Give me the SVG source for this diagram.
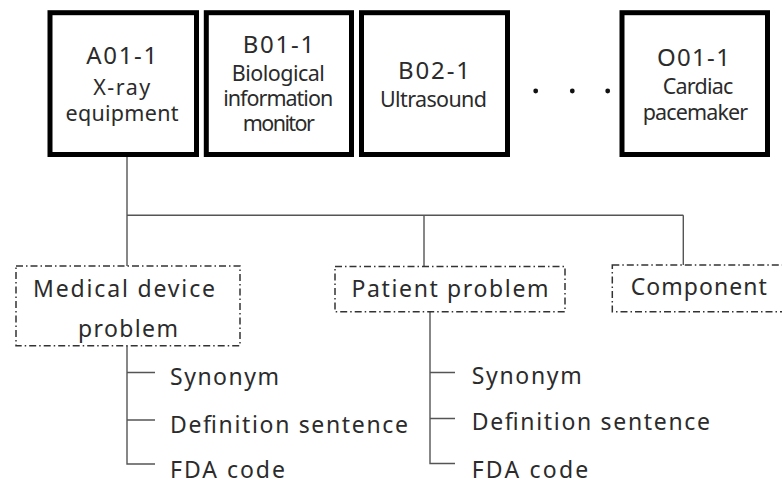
<svg xmlns="http://www.w3.org/2000/svg" width="782" height="483" viewBox="0 0 782 483">
  <style>
    .dev { fill: #ffffff; stroke: #000000; stroke-width: 5; }
    .cat { fill: #ffffff; stroke: #333333; stroke-width: 1.5; stroke-dasharray: 7 3 1.5 3; }
    .wire { fill: none; stroke: #555555; stroke-width: 1.4; }
    text { font-family: "Noto Sans", "Liberation Sans", sans-serif; fill: #2b2b2b; }
    .code { font-size: 24px; text-anchor: middle; }
    .name { font-size: 21.5px; text-anchor: middle; }
    .label { font-size: 23px; }
    .mid { text-anchor: middle; }
  </style>

  <!-- connectors -->
  <g id="connectors">
    <path class="wire" d="M127 157 V266 M127 215.3 H683.3 M424 215.3 V266.7 M683.3 215.3 V265"/>
    <path class="wire" d="M127 346 V464 H155 M127 372.5 H155 M127 420 H155"/>
    <path class="wire" d="M430 312 V463.5 H455 M430 372.5 H455 M430 418.5 H455"/>
  </g>

  <!-- device boxes -->
  <g id="node-A01-1">
    <rect class="dev" x="50" y="12.7" width="146.5" height="141.8"/>
    <text class="code" x="121.7" y="64" textLength="71" lengthAdjust="spacing">A01-1</text>
    <text class="name" x="121.7" y="95" textLength="57" lengthAdjust="spacing">X-ray</text>
    <text class="name" x="122" y="121" textLength="113" lengthAdjust="spacing">equipment</text>
  </g>
  <g id="node-B01-1">
    <rect class="dev" x="206.3" y="12.7" width="145.2" height="141.8"/>
    <text class="code" x="278.5" y="52.5" textLength="71.5" lengthAdjust="spacing">B01-1</text>
    <text class="name" x="278.3" y="80.5" textLength="93" lengthAdjust="spacing">Biological</text>
    <text class="name" x="278.2" y="106" textLength="110" lengthAdjust="spacing">information</text>
    <text class="name" x="278.8" y="130.5" textLength="72" lengthAdjust="spacing">monitor</text>
  </g>
  <g id="node-B02-1">
    <rect class="dev" x="361.5" y="12.7" width="146" height="141.8"/>
    <text class="code" x="434" y="79.3" textLength="72" lengthAdjust="spacing">B02-1</text>
    <text class="name" x="433.5" y="107.3" textLength="107" lengthAdjust="spacing">Ultrasound</text>
  </g>
  <g id="ellipsis">
    <circle cx="535.7" cy="91" r="2.4" fill="#111111"/>
    <circle cx="572.3" cy="91" r="2.4" fill="#111111"/>
    <circle cx="607.7" cy="91" r="2.4" fill="#111111"/>
  </g>
  <g id="node-O01-1">
    <rect class="dev" x="622" y="12.7" width="145.5" height="141.8"/>
    <text class="code" x="693.4" y="66" textLength="73" lengthAdjust="spacing">O01-1</text>
    <text class="name" x="698" y="94" textLength="70.5" lengthAdjust="spacing">Cardiac</text>
    <text class="name" x="695.5" y="120" textLength="105.5" lengthAdjust="spacing">pacemaker</text>
  </g>

  <!-- problem categories -->
  <g id="node-medical-device-problem">
    <rect class="cat" x="16" y="266" width="224" height="79.7"/>
    <text class="label mid" x="124" y="296.7" textLength="182" lengthAdjust="spacing">Medical device</text>
    <text class="label mid" x="128" y="336.7" textLength="100" lengthAdjust="spacing">problem</text>
  </g>
  <g id="node-patient-problem">
    <rect class="cat" x="335" y="266.5" width="230" height="45.2"/>
    <text class="label mid" x="450" y="296.7" textLength="197" lengthAdjust="spacing">Patient problem</text>
  </g>
  <g id="node-component">
    <rect class="cat" x="612.3" y="265" width="180" height="46.7"/>
    <text class="label" x="630.7" y="295" textLength="136" lengthAdjust="spacing">Component</text>
  </g>

  <!-- attributes -->
  <g id="node-mdp-attributes">
    <text class="label" x="170" y="384.5" textLength="109" lengthAdjust="spacing">Synonym</text>
    <text class="label" x="170" y="433.3" textLength="238" lengthAdjust="spacing">Definition sentence</text>
    <text class="label" x="170" y="477.7" textLength="115" lengthAdjust="spacing">FDA code</text>
  </g>
  <g id="node-pp-attributes">
    <text class="label" x="471.7" y="384.3" textLength="110" lengthAdjust="spacing">Synonym</text>
    <text class="label" x="471.7" y="430" textLength="238.3" lengthAdjust="spacing">Definition sentence</text>
    <text class="label" x="471.7" y="478.3" textLength="116.6" lengthAdjust="spacing">FDA code</text>
  </g>
</svg>
